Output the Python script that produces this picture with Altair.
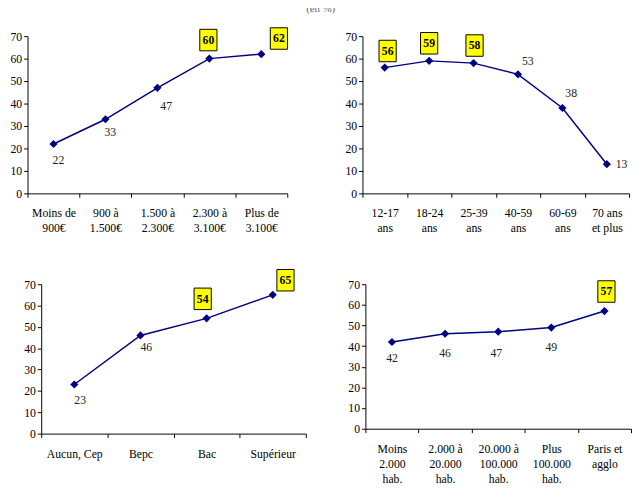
import altair as alt
import pandas as pd

FONT = "Liberation Serif"

# ---- data -------------------------------------------------------------
income_cats = ["Moins de\n900€", "900 à\n1.500€", "1.500 à\n2.300€", "2.300 à\n3.100€", "Plus de\n3.100€"]
income_vals = [22, 33, 47, 60, 62]
income_boxed = [False, False, False, True, True]

age_cats = ["12-17\nans", "18-24\nans", "25-39\nans", "40-59\nans", "60-69\nans", "70 ans\net plus"]
age_vals = [56, 59, 58, 53, 38, 13]
age_boxed = [True, True, True, False, False, False]

edu_cats = ["Aucun, Cep", "Bepc", "Bac", "Supérieur"]
edu_vals = [23, 46, 54, 65]
edu_boxed = [False, False, True, True]

town_cats = ["Moins\n2.000\nhab.", "2.000 à\n20.000\nhab.", "20.000 à\n100.000\nhab.",
             "Plus\n100.000\nhab.", "Paris et\nagglo"]
town_vals = [42, 46, 47, 49, 57]
town_boxed = [False, False, False, False, True]

y_ticks = [0, 10, 20, 30, 40, 50, 60, 70]
title_text = "(en %)"

# ---- label placement (pixel offsets of value labels from their points) --
income_off = [(5, 17), (5, 13), (9, 19), (-1, -19), (18, -16)]
age_off = [(3, -17), (0, -18), (1, -18), (10, -14), (9, -15), (15, 0)]
edu_off = [(6, 16), (6, 12), (-4, -20), (13, -15)]
town_off = [(0, 16), (0, 20), (-2, 22), (0, 20), (2, -20)]

BOX = "M-0.8,-1H0.8V1H-0.8Z"


def panel(cats, vals, boxed, offs, width, height, x_range=None, y_axis_offset=0):
    df = pd.DataFrame({"cat": cats, "val": vals})
    sargs = dict(type="band", domain=cats, paddingInner=0, paddingOuter=0)
    if x_range is not None:
        sargs["range"] = x_range
    xscale = alt.Scale(**sargs)
    yscale = alt.Scale(domain=[0, 70], nice=False, zero=True)

    x_axis = alt.Axis(
        title=None, labelAngle=0, tickBand="extent", labelOverlap=False,
        labelExpr="split(datum.label, '\\n')", labelFont=FONT, labelFontSize=12,
        labelColor="black", labelPadding=11, labelLineHeight=15.5, tickSize=4,
        domainColor="black", tickColor="black", grid=False, labelLimit=0,
    )
    y_axis = alt.Axis(
        title=None, values=y_ticks, labelFont=FONT, labelFontSize=12,
        labelColor="black", labelPadding=2, tickSize=4, domainColor="black",
        tickColor="black", grid=False, offset=y_axis_offset,
    )

    xe = alt.X("cat:N", scale=xscale, sort=None, axis=x_axis)
    ye = alt.Y("val:Q", scale=yscale, axis=y_axis)

    base = alt.Chart(df)
    layers = [
        base.mark_line(color="#000080", strokeWidth=1.5).encode(x=xe, y=ye),
        base.mark_point(shape="diamond", filled=True, color="#000080", size=70,
                        opacity=1).encode(x=xe, y=ye),
    ]
    for i, (b, (dx, dy)) in enumerate(zip(boxed, offs)):
        sub = df.iloc[[i]]
        if b:
            layers.append(
                alt.Chart(sub).mark_point(
                    shape=BOX, size=484, filled=True, color="#FFFF00",
                    stroke="black", strokeWidth=1, opacity=1,
                    xOffset=dx, yOffset=dy,
                ).encode(x=xe, y=ye)
            )
        layers.append(
            alt.Chart(sub).mark_text(
                dx=dx, dy=dy, font=FONT, fontSize=12,
                fontWeight="bold" if b else "normal",
                color="black" if b else "#222222",
                align="center", baseline="middle",
            ).encode(x=xe, y=ye, text="val:Q")
        )
    return alt.layer(*layers).properties(width=width, height=height)


p1 = panel(income_cats, income_vals, income_boxed, income_off, 266, 161)
p2 = panel(age_cats, age_vals, age_boxed, age_off, 273, 161)
p3 = panel(edu_cats, edu_vals, edu_boxed, edu_off, 285, 153, x_range=[14, 285], y_axis_offset=-14)
p4 = panel(town_cats, town_vals, town_boxed, town_off, 275, 148, x_range=[3, 275], y_axis_offset=-3)

chart = alt.concat(
    p1, p2, p3, p4, columns=2,
    spacing={"row": 93, "column": 58}, bounds="flush",
).properties(
    title=alt.TitleParams(text=title_text, font=FONT, fontSize=11, fontWeight="normal",
                          color="#666666", offset=12, anchor="middle"),
    padding={"left": 2, "top": -11, "right": 0, "bottom": 4},
).configure(font=FONT).configure_view(stroke=None)

chart.save("out.html", embed_options={"renderer": "svg", "actions": False})
